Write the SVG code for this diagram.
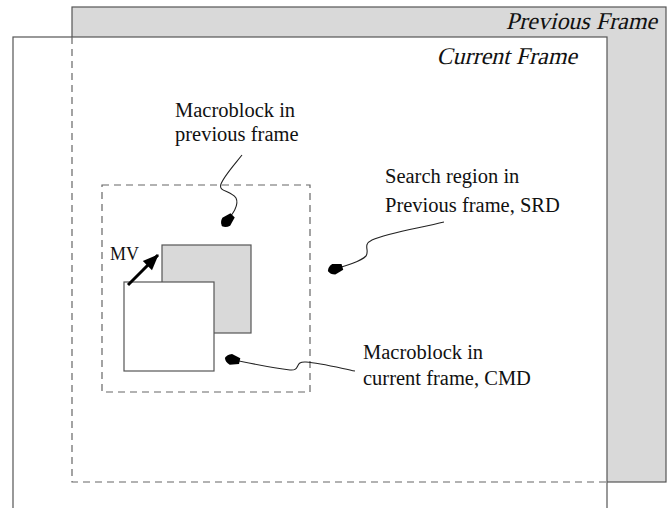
<svg xmlns="http://www.w3.org/2000/svg" width="667" height="508" viewBox="0 0 667 508">
<style>
.frame{stroke:#555;stroke-width:1.2}
.dash{fill:none;stroke:#666;stroke-width:1.2;stroke-dasharray:7 5}
.t{font-family:"Liberation Serif","Times New Roman",serif;font-size:20.5px;fill:#111}
.mv{font-family:"Liberation Serif","Times New Roman",serif;font-size:18px;fill:#111}
.ti{font-family:"Liberation Serif","Times New Roman",serif;font-size:24px;fill:#111}
.wire{fill:none;stroke:#222;stroke-width:1.1;marker-end:url(#blob)}
</style>
<defs>
<marker id="blob" markerUnits="userSpaceOnUse" markerWidth="20" markerHeight="14" viewBox="-14 -7 20 14" refX="2" refY="0" orient="auto">
<path d="M-13,-3 L-4,-5.5 Q1,-4 2,0 Q1,4 -4,5.5 L-13,3 Z" fill="#000"/>
</marker>
<marker id="tri" markerUnits="userSpaceOnUse" markerWidth="18" markerHeight="16" viewBox="-16 -8 18 16" refX="0" refY="0" orient="auto">
<path d="M-15,-6.5 L1,0 L-15,6.5 Z" fill="#000"/>
</marker>
</defs>
<g id="previous-frame">
<rect x="72" y="7" width="594" height="475" fill="#d9d9d9" class="frame"/>
<text class="ti" text-anchor="end" transform="translate(657,29) skewX(-14)">Previous Frame</text>
</g>
<g id="current-frame">
<rect x="13" y="37" width="594" height="480" fill="#fff" class="frame"/>
<path class="dash" d="M72,37 V482 H607"/>
<text class="ti" text-anchor="end" transform="translate(577,64) skewX(-14)">Current Frame</text>
</g>
<g id="search-region">
<rect class="dash" x="102" y="185" width="208" height="207"/>
</g>
<g id="prev-macroblock">
<rect x="162" y="245" width="89" height="88" fill="#d9d9d9" class="frame"/>
</g>
<g id="cur-macroblock">
<rect x="124" y="282" width="90" height="89" fill="#fff" class="frame"/>
</g>
<g id="labels">
<text class="t" x="175" y="117">Macroblock in</text>
<text class="t" x="175" y="141">previous frame</text>
<text class="t" x="385" y="183">Search region in</text>
<text class="t" x="385" y="212">Previous frame, SRD</text>
<text class="t" x="363" y="359">Macroblock in</text>
<text class="t" x="363" y="385">current frame, CMD</text>
<text class="mv" x="110" y="260">MV</text>
</g>
<g id="connectors">
<path class="wire" d="M242,155 C234,165 224,176 221,184 C218,192 230,190 236,198 C240,206 230,218 222,226"/>
<path class="wire" d="M444,222 C420,228 388,233 372,240 C362,245 370,250 366,256 C360,262 345,266 328,271"/>
<path class="wire" d="M355,371 C340,368 320,363 306,362 C294,361 301,371 290,370 C272,368 248,363 225,358"/>
<path d="M128,285 L158,255" fill="none" stroke="#000" stroke-width="3" marker-end="url(#tri)"/>
</g>
</svg>
